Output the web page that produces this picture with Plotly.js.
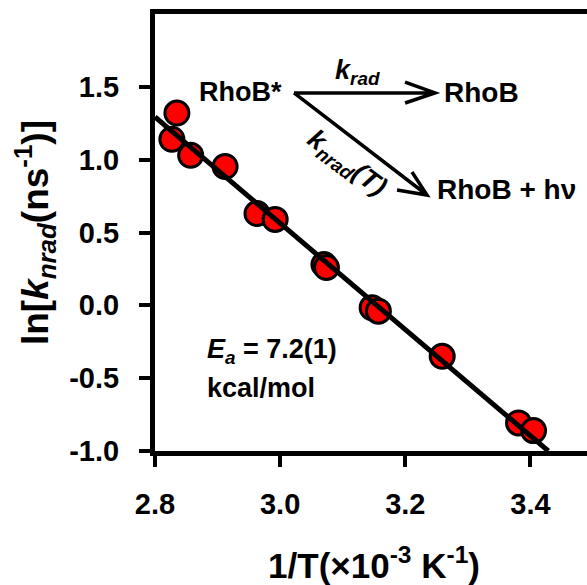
<!DOCTYPE html>
<html>
<head>
<meta charset="utf-8">
<script src="https://cdn.plot.ly/plotly-3.0.1.min.js"></script>
<style>
html, body { margin: 0; padding: 0; overflow: hidden; background: #fff; }
#chart { width: 593px; height: 585px; }
</style>
</head>
<body>
<div id="chart"></div>
<script>
// Data
const invT = [2.827, 2.835, 2.857, 2.912, 2.963, 2.992, 3.070, 3.074, 3.147, 3.157, 3.259, 3.381, 3.405];
const lnKnrad = [1.14, 1.32, 1.03, 0.953, 0.63, 0.59, 0.28, 0.26, -0.016, -0.04, -0.35, -0.807, -0.86];
// Linear fit endpoints
const fitX = [2.8, 3.4286];
const fitY = [1.293, -1.0];
// Ticks
const xTicks = [2.8, 3.0, 3.2, 3.4];
const xTickLabels = ['2.8', '3.0', '3.2', '3.4'];
const yTicks = [-1.0, -0.5, 0.0, 0.5, 1.0, 1.5];
const yTickLabels = ['-1.0', '-0.5', '0.0', '0.5', '1.0', '1.5'];

const FONT = 'Liberation Sans, Arial, Helvetica, sans-serif';
const f = (s) => ({ family: FONT, size: s, color: '#000', weight: 700 });

const traces = [
  {
    x: invT, y: lnKnrad, type: 'scatter', mode: 'markers',
    marker: { color: '#ff0000', size: 24, line: { color: '#000', width: 3 } },
    hoverinfo: 'skip', cliponaxis: false
  },
  {
    x: fitX, y: fitY, type: 'scatter', mode: 'lines',
    line: { color: '#000', width: 5 }, hoverinfo: 'skip'
  }
];

const layout = {
  width: 593, height: 585,
  margin: { l: 155, r: 0, t: 14, b: 134 },
  paper_bgcolor: '#fff', plot_bgcolor: '#fff',
  showlegend: false,
  xaxis: {
    range: [2.8, 3.5], tickmode: 'array', tickvals: xTicks, ticktext: xTickLabels,
    ticks: 'outside', ticklen: 11, tickwidth: 4, tickcolor: '#000',
    showline: true, linewidth: 5, linecolor: '#000', mirror: true,
    showgrid: false, zeroline: false, tickfont: f(29), ticklabelstandoff: 12,
    title: { text: '1/T(×10<sup>-3</sup> K<sup>-1</sup>)', font: f(35), standoff: 38 }
  },
  yaxis: {
    range: [-1.0, 2.0], tickmode: 'array', tickvals: yTicks, ticktext: yTickLabels,
    ticks: 'outside', ticklen: 11, tickwidth: 4, tickcolor: '#000',
    showline: true, linewidth: 5, linecolor: '#000', mirror: true,
    showgrid: false, zeroline: false, tickfont: f(29), ticklabelstandoff: 14,
    title: { text: 'ln[<i>k</i><sub><i>nrad</i></sub>(ns<sup>-1</sup>)]', font: f(37), standoff: 11 }
  },
  shapes: [
    { type: 'path', xref: 'x', yref: 'y',
      path: 'M3.0222,1.458 L3.2475,1.458 M3.1996,1.533 L3.2475,1.458 L3.1996,1.389',
      line: { color: '#000', width: 3.5 } },
    { type: 'path', xref: 'x', yref: 'y',
      path: 'M3.0222,1.458 L3.2347,0.7575 M3.2107,0.915 L3.2347,0.7575 L3.1868,0.792',
      line: { color: '#000', width: 3.5 } }
  ],
  annotations: [
    { xref: 'x', yref: 'y', x: 2.9374, y: 1.4646, text: 'RhoB*', showarrow: false,
      font: f(27), xanchor: 'center', yanchor: 'middle' },
    { xref: 'x', yref: 'y', x: 3.124, y: 1.6, text: '<i>k</i><sub><i>rad</i></sub>', showarrow: false,
      font: f(27), xanchor: 'center', yanchor: 'middle' },
    { xref: 'x', yref: 'y', x: 3.321, y: 1.458, text: 'RhoB', showarrow: false,
      font: f(28), xanchor: 'center', yanchor: 'middle' },
    { xref: 'x', yref: 'y', x: 3.362, y: 0.792, text: 'RhoB + hν', showarrow: false,
      font: f(28), xanchor: 'center', yanchor: 'middle' },
    { xref: 'x', yref: 'y', x: 3.105, y: 0.97, textangle: 37,
      text: '<i>k</i><sub><i>nrad</i></sub><i>(T)</i>', showarrow: false,
      font: f(27), xanchor: 'center', yanchor: 'middle' },
    { xref: 'x', yref: 'y', x: 2.8799, y: -0.3134,
      text: '<i>E</i><sub><i>a</i></sub> = 7.2(1)', showarrow: false,
      font: f(27), xanchor: 'left', yanchor: 'middle' },
    { xref: 'x', yref: 'y', x: 2.8799, y: -0.5675, text: 'kcal/mol', showarrow: false,
      font: f(27), xanchor: 'left', yanchor: 'middle' }
  ]
};

Plotly.newPlot('chart', traces, layout, { displayModeBar: false, staticPlot: true });
</script>
</body>
</html>
